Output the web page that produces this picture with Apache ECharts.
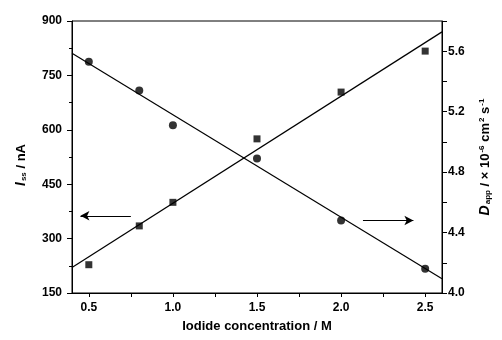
<!DOCTYPE html>
<html><head><meta charset="utf-8">
<script src="https://cdn.jsdelivr.net/npm/echarts@6/dist/echarts.min.js"></script>
<style>html,body{margin:0;padding:0;background:#fff}#c{width:502px;height:340px}</style>
</head><body><div id="c"></div>
<script>
// Data
const conc = [0.5, 0.8, 1.0, 1.5, 2.0, 2.5];            // Iodide concentration / M
const issValues = [228, 335, 400, 575, 704, 817];        // I_ss / nA (squares, left axis)
const dappValues = [5.53, 5.34, 5.11, 4.89, 4.48, 4.16]; // D_app (circles, right axis)
const fitX = [0.4, 2.6];
const issFit = [220, 870];
const dappFit = [5.587, 4.094];
const arrowLeft = { x: [0.75, 0.45], y: 363 };
const arrowRight = { x: [2.13, 2.43], y: 4.48 };
const xTicks = [0.5, 1.0, 1.5, 2.0, 2.5];

const FONT = 'Liberation Sans, Arial, sans-serif';
const chart = echarts.init(document.getElementById('c'));
const pair = (xs, ys) => xs.map((x, i) => [x, ys[i]]);

chart.setOption({
  animation: false,
  backgroundColor: '#fff',
  grid: { left: 72, right: 60, top: 21, bottom: 47, show: true, borderColor: '#000', borderWidth: 1 },
  xAxis: {
    type: 'value', min: 0.4, max: 2.6, interval: 0.1,
    name: 'Iodide concentration / M', nameLocation: 'middle', nameGap: 27,
    nameTextStyle: { fontFamily: FONT, fontWeight: 'bold', fontSize: 13, color: '#000' },
    axisLine: { onZero: false, lineStyle: { color: '#000', width: 1 } },
    axisTick: { show: true, inside: false, length: 4, lineStyle: { color: '#000' },
      customValues: [0.5,0.75,1.0,1.25,1.5,1.75,2.0,2.25,2.5] },
    axisLabel: { fontFamily: FONT, fontWeight: 'bold', fontSize: 12, color: '#000', margin: 9,
      customValues: xTicks, formatter: v => v.toFixed(1) },
    splitLine: { show: false }
  },
  yAxis: [{
    type: 'value', min: 150, max: 900, interval: 150, position: 'left',
    name: '{i|I}{sub|ss}{n| / nA}', nameLocation: 'middle', nameGap: 44, nameRotate: 90,
    nameTextStyle: { fontFamily: FONT, fontWeight: 'bold', fontSize: 13, color: '#000', padding: [0, 16, 0, 0],
      rich: {
        i: { fontFamily: FONT, fontWeight: 'bold', fontStyle: 'italic', fontSize: 14, color: '#000' },
        sub: { fontFamily: FONT, fontWeight: 'bold', fontSize: 8, color: '#000', verticalAlign: 'bottom', padding: [6, 0, 0, 1] },
        n: { fontFamily: FONT, fontWeight: 'bold', fontSize: 13, color: '#000' }
      } },
    axisLine: { show: true, lineStyle: { color: '#000' } },
    axisTick: { show: true, length: 5, lineStyle: { color: '#000' } },
    minorTick: { show: true, splitNumber: 2, length: 3, lineStyle: { color: '#000' } },
    axisLabel: { fontFamily: FONT, fontWeight: 'bold', fontSize: 12, color: '#000', margin: 10 },
    splitLine: { show: false }
  }, {
    type: 'value', min: 4.0, max: 5.8, interval: 0.2, position: 'right',
    name: '{i|D}{sub|app}{n| / × 10}{sup|-6}{n| cm}{sup|2}{n| s}{sup|-1}',
    nameLocation: 'middle', nameGap: 36, nameRotate: 90,
    nameTextStyle: { fontFamily: FONT, fontWeight: 'bold', fontSize: 13, color: '#000',
      rich: {
        i: { fontFamily: FONT, fontWeight: 'bold', fontStyle: 'italic', fontSize: 14, color: '#000' },
        sub: { fontFamily: FONT, fontWeight: 'bold', fontSize: 8, color: '#000', verticalAlign: 'bottom', padding: [6, 0, 0, 1] },
        sup: { fontFamily: FONT, fontWeight: 'bold', fontSize: 8, color: '#000', verticalAlign: 'top', padding: [0, 0, 6, 1] },
        n: { fontFamily: FONT, fontWeight: 'bold', fontSize: 13, color: '#000' }
      } },
    axisLine: { show: true, lineStyle: { color: '#000' } },
    axisTick: { show: true, length: 5, lineStyle: { color: '#000' } },
    axisLabel: { fontFamily: FONT, fontWeight: 'bold', fontSize: 12, color: '#000', margin: 6,
      formatter: v => (Math.round(v * 10) % 4 === 0 ? v.toFixed(1) : '') },
    splitLine: { show: false }
  }],
  series: [
    { type: 'scatter', yAxisIndex: 0, symbol: 'rect', symbolSize: 7, itemStyle: { color: '#000' },
      data: pair(conc, issValues) },
    { type: 'scatter', yAxisIndex: 1, symbol: 'circle', symbolSize: 8, itemStyle: { color: '#000' },
      data: pair(conc, dappValues) },
    { type: 'line', yAxisIndex: 0, symbol: 'none', lineStyle: { color: '#000', width: 1.2 },
      data: pair(fitX, issFit),
      markLine: { silent: true, symbol: ['none', 'arrow'], symbolSize: [7, 9], label: { show: false },
        lineStyle: { color: '#000', width: 1, type: 'solid' },
        data: [[{ coord: [arrowLeft.x[0], arrowLeft.y] }, { coord: [arrowLeft.x[1], arrowLeft.y] }]] } },
    { type: 'line', yAxisIndex: 1, symbol: 'none', lineStyle: { color: '#000', width: 1.2 },
      data: pair(fitX, dappFit),
      markLine: { silent: true, symbol: ['none', 'arrow'], symbolSize: [7, 9], label: { show: false },
        lineStyle: { color: '#000', width: 1, type: 'solid' },
        data: [[{ coord: [arrowRight.x[0], arrowRight.y] }, { coord: [arrowRight.x[1], arrowRight.y] }]] } }
  ]
});
</script></body></html>
